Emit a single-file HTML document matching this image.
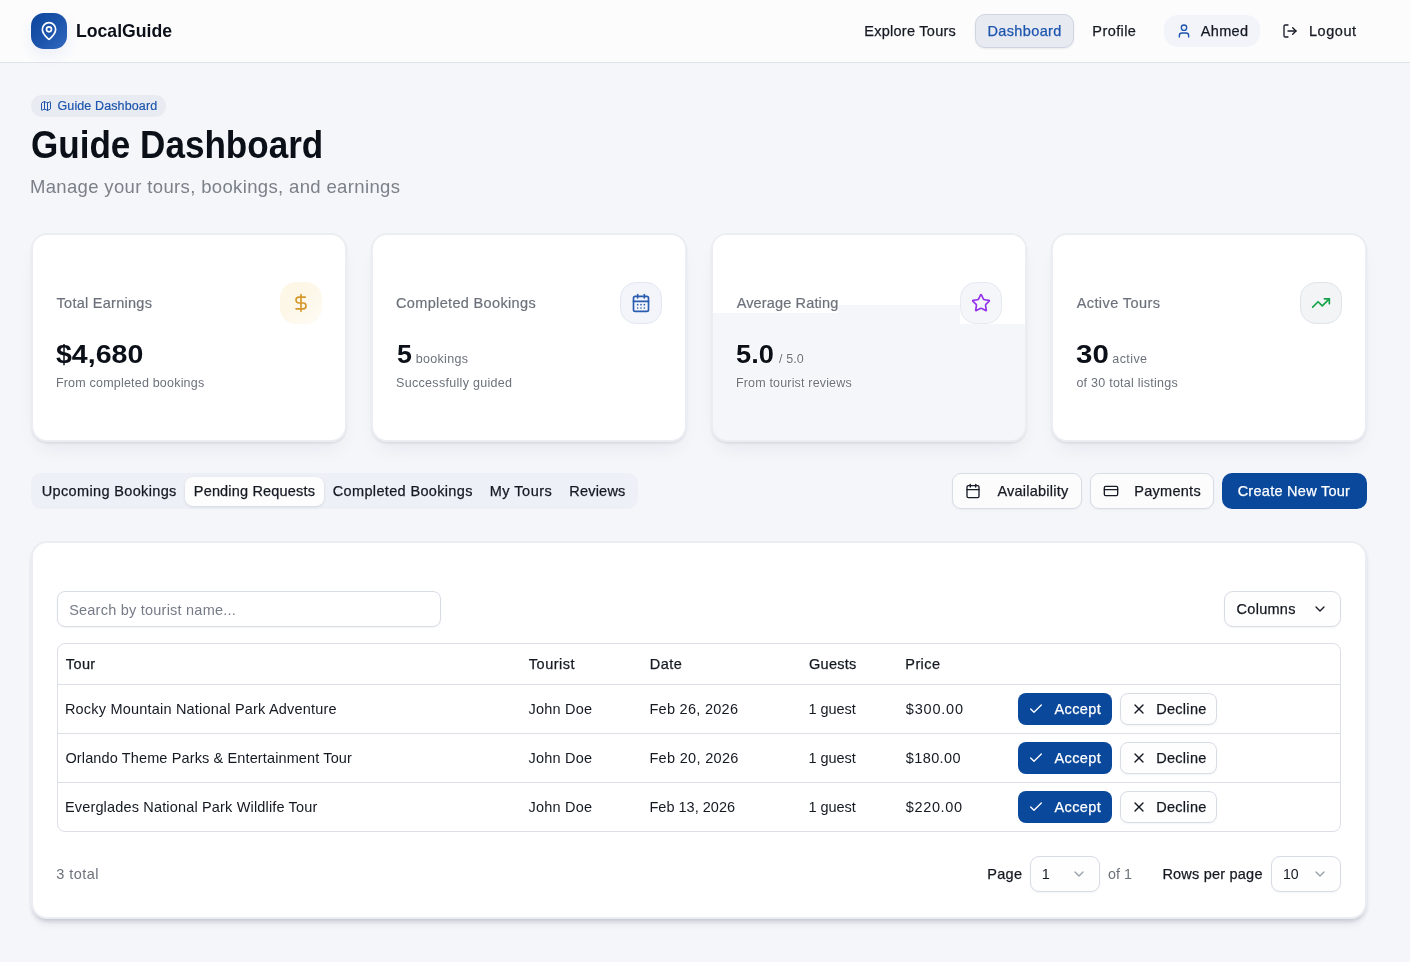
<!DOCTYPE html>
<html lang="en"><head><meta charset="utf-8"><title>Guide Dashboard - LocalGuide</title>
<style>
html,body{margin:0;padding:0}
body{width:1410px;height:962px;position:relative;overflow:hidden;background:#f5f6fa;font-family:'Liberation Sans',sans-serif}
.t{position:absolute;white-space:pre}
#tx{position:absolute;left:0;top:0;width:1410px;height:962px;will-change:transform;z-index:5}
.b{position:absolute;box-sizing:border-box}
svg{position:absolute;overflow:visible;fill:none;stroke-linecap:round;stroke-linejoin:round;z-index:4}
.card{border:2px solid #ebedf2;border-radius:16px;background:#fff;box-shadow:0 2px 3px -1px rgba(20,30,60,.13),0 12px 22px -8px rgba(20,30,60,.07)}
.ob{border:1px solid #d8dce5;border-radius:9px;background:#fcfcfd;box-shadow:0 1px 2px rgba(20,30,60,.05)}
.pb{border-radius:9px;background:#0a489b}
.ib{border-radius:16px}
.hl{height:1px;background:#dcdfe8;left:58px;width:1282px}
.ob.w{background:#fefefe}

</style></head>
<body>
<div class="b" style="left:0;top:0;width:1410px;height:63px;background:#fcfcfd;border-bottom:1px solid #dfe2e8"></div>
<div class="b" style="left:31px;top:13px;width:36px;height:36px;border-radius:13px;background:linear-gradient(135deg,#0a459b 0%,#1d55ad 55%,#3369bf 100%);box-shadow:0 6px 14px rgba(30,80,170,.08)"></div>
<svg style="left:39px;top:21px" width="20" height="20" viewBox="0 0 24 24" stroke="#fff" stroke-width="2"><path d="M20 10c0 4.993-5.539 10.193-7.399 11.799a1 1 0 0 1-1.202 0C9.539 20.193 4 14.993 4 10a8 8 0 0 1 16 0"/><circle cx="12" cy="10" r="3"/></svg>
<div class="b" style="left:975px;top:14px;width:99px;height:34px;border-radius:10px;background:#e7eaf1;border:1px solid #cfd5e0;box-shadow:0 1px 2px rgba(20,30,60,.08)"></div>
<div class="b" style="left:1164px;top:15px;width:96px;height:32px;border-radius:14px;background:#f2f4fa"></div>
<svg style="left:1176px;top:23px" width="16" height="16" viewBox="0 0 24 24" stroke="#1d55ad" stroke-width="2"><path d="M19 21v-2a4 4 0 0 0-4-4H9a4 4 0 0 0-4 4v2"/><circle cx="12" cy="7" r="4"/></svg>
<svg style="left:1282px;top:23px" width="16" height="16" viewBox="0 0 24 24" stroke="#171b26" stroke-width="2"><path d="M9 21H5a2 2 0 0 1-2-2V5a2 2 0 0 1 2-2h4"/><polyline points="16 17 21 12 16 7"/><line x1="21" y1="12" x2="9" y2="12"/></svg>
<div class="b" style="left:31px;top:95px;width:135px;height:22px;border-radius:11px;background:#e8ebf1"></div>
<svg style="left:40px;top:100px" width="12" height="12" viewBox="0 0 24 24" stroke="#1d55ad" stroke-width="2"><path d="M14.106 5.553a2 2 0 0 0 1.788 0l3.659-1.83A1 1 0 0 1 21 4.619v12.764a1 1 0 0 1-.553.894l-4.553 2.277a2 2 0 0 1-1.788 0l-4.212-2.106a2 2 0 0 0-1.788 0l-3.659 1.83A1 1 0 0 1 3 19.381V6.618a1 1 0 0 1 .553-.894l4.553-2.277a2 2 0 0 1 1.788 0z"/><path d="M15 5.764v15"/><path d="M9 3.236v15"/></svg>
<!-- cards -->
<div class="b card" style="left:31px;top:233px;width:316px;height:208.5px"></div>
<div class="b card" style="left:371px;top:233px;width:316px;height:208.5px"></div>
<div class="b card" style="left:711px;top:233px;width:316px;height:208.5px;background:#f5f6fa;overflow:hidden">
  <div class="b" style="left:0;top:0;width:312px;height:70px;background:#fff"></div>
  <div class="b" style="left:0;top:0;width:125px;height:77.7px;background:#fff"></div>
  <div class="b" style="left:247px;top:0;width:65px;height:89px;background:#fff"></div>
</div>
<div class="b card" style="left:1051px;top:233px;width:316px;height:208.5px"></div>
<div class="b ib" style="left:280px;top:282px;width:42px;height:42px;background:linear-gradient(135deg,#fdf7e8 45%,#fffcf6 100%)"></div>
<div class="b ib" style="left:620px;top:282px;width:42px;height:42px;background:#f3f5fb;border:1px solid #e0e6f2"></div>
<div class="b ib" style="left:960px;top:282px;width:42px;height:42px;background:#f5f6fa;border:1px solid #e6e9f1"></div>
<div class="b ib" style="left:1300px;top:282px;width:42px;height:42px;background:#f2f4f6;border:1px solid #e0e4e9"></div>
<svg style="left:291px;top:293px" width="20" height="20" viewBox="0 0 24 24" stroke="#d4982a" stroke-width="2"><line x1="12" y1="2" x2="12" y2="22"/><path d="M17 5H9.5a3.5 3.5 0 0 0 0 7h5a3.5 3.5 0 0 1 0 7H6"/></svg>
<svg style="left:631px;top:293px" width="20" height="20" viewBox="0 0 24 24" stroke="#2a5db0" stroke-width="2"><path d="M8 2v4"/><path d="M16 2v4"/><rect x="3" y="4" width="18" height="18" rx="2"/><path d="M3 10h18"/><path d="M8 14h.01"/><path d="M12 14h.01"/><path d="M16 14h.01"/><path d="M8 18h.01"/><path d="M12 18h.01"/><path d="M16 18h.01"/></svg>
<svg style="left:971px;top:293px" width="20" height="20" viewBox="0 0 24 24" stroke="#9333ea" stroke-width="2"><path d="M11.525 2.295a.53.53 0 0 1 .95 0l2.31 4.679a2.123 2.123 0 0 0 1.595 1.16l5.166.756a.53.53 0 0 1 .294.904l-3.736 3.638a2.123 2.123 0 0 0-.611 1.878l.882 5.14a.53.53 0 0 1-.771.56l-4.618-2.428a2.122 2.122 0 0 0-1.973 0L6.396 21.01a.53.53 0 0 1-.77-.56l.881-5.139a2.122 2.122 0 0 0-.611-1.879L2.16 9.795a.53.53 0 0 1 .294-.906l5.165-.755a2.122 2.122 0 0 0 1.597-1.16z"/></svg>
<svg style="left:1311px;top:293px" width="20" height="20" viewBox="0 0 24 24" stroke="#16a34a" stroke-width="2"><polyline points="22 7 13.5 15.5 8.5 10.5 2 17"/><polyline points="16 7 22 7 22 13"/></svg>
<!-- tabs & buttons -->
<div class="b" style="left:31px;top:473px;width:607px;height:36px;border-radius:10px;background:#eef0f7"></div>
<div class="b" style="left:185px;top:477px;width:139px;height:29px;border-radius:8px;background:#fdfdfe;box-shadow:0 1px 3px rgba(20,30,60,.12)"></div>
<div class="b ob" style="left:952px;top:473px;width:130px;height:36px"></div>
<div class="b ob" style="left:1090px;top:473px;width:123.5px;height:36px"></div>
<div class="b pb" style="left:1222px;top:473px;width:145px;height:36px;border-radius:10px"></div>
<svg style="left:965px;top:483px" width="16" height="16" viewBox="0 0 24 24" stroke="#171b26" stroke-width="2"><path d="M8 2v4"/><path d="M16 2v4"/><rect x="3" y="4" width="18" height="18" rx="2"/><path d="M3 10h18"/></svg>
<svg style="left:1103px;top:483px" width="16" height="16" viewBox="0 0 24 24" stroke="#171b26" stroke-width="2"><rect x="2" y="5" width="20" height="14" rx="2"/><line x1="2" y1="10" x2="22" y2="10"/></svg>
<!-- table card -->
<div class="b card" style="left:31px;top:541px;width:1336px;height:377.5px;box-shadow:0 3px 4px -1px rgba(20,30,60,.16),0 9px 10px -5px rgba(20,30,60,.09)"></div>
<div class="b" style="left:57px;top:591px;width:384px;height:36px;border-radius:8px;border:1px solid #d8dce4;background:#fff;box-shadow:0 1px 2px rgba(20,30,60,.05)"></div>
<div class="b ob w" style="left:1224px;top:591px;width:117px;height:36px"></div>
<svg style="left:1312.4px;top:601px" width="16" height="16" viewBox="0 0 24 24" stroke="#171b26" stroke-width="2"><path d="m6 9 6 6 6-6"/></svg>
<div class="b" style="left:57px;top:643px;width:1284px;height:189px;border-radius:8px;border:1px solid #dcdfe7"></div>
<div class="b hl" style="top:684px"></div>
<div class="b hl" style="top:733px"></div>
<div class="b hl" style="top:782px"></div>
<div class="b pb" style="left:1018px;top:693px;width:94px;height:32px;border-radius:8px"></div>
<div class="b ob w" style="left:1120.4px;top:693px;width:96.3px;height:32px;border-radius:8px"></div>
<svg style="left:1028px;top:701px" width="16" height="16" viewBox="0 0 24 24" stroke="#fff" stroke-width="2"><path d="M20 6 9 17l-5-5"/></svg>
<svg style="left:1131px;top:701px" width="16" height="16" viewBox="0 0 24 24" stroke="#171b26" stroke-width="2"><path d="M18 6 6 18"/><path d="m6 6 12 12"/></svg>
<div class="b pb" style="left:1018px;top:742px;width:94px;height:32px;border-radius:8px"></div>
<div class="b ob w" style="left:1120.4px;top:742px;width:96.3px;height:32px;border-radius:8px"></div>
<svg style="left:1028px;top:750px" width="16" height="16" viewBox="0 0 24 24" stroke="#fff" stroke-width="2"><path d="M20 6 9 17l-5-5"/></svg>
<svg style="left:1131px;top:750px" width="16" height="16" viewBox="0 0 24 24" stroke="#171b26" stroke-width="2"><path d="M18 6 6 18"/><path d="m6 6 12 12"/></svg>
<div class="b pb" style="left:1018px;top:791px;width:94px;height:32px;border-radius:8px"></div>
<div class="b ob w" style="left:1120.4px;top:791px;width:96.3px;height:32px;border-radius:8px"></div>
<svg style="left:1028px;top:799px" width="16" height="16" viewBox="0 0 24 24" stroke="#fff" stroke-width="2"><path d="M20 6 9 17l-5-5"/></svg>
<svg style="left:1131px;top:799px" width="16" height="16" viewBox="0 0 24 24" stroke="#171b26" stroke-width="2"><path d="M18 6 6 18"/><path d="m6 6 12 12"/></svg>

<div class="b ob w" style="left:1030px;top:856px;width:70px;height:36px"></div>
<div class="b ob w" style="left:1271px;top:856px;width:70px;height:36px"></div>
<svg style="left:1070.5px;top:866px" width="16" height="16" viewBox="0 0 24 24" stroke="#9aa0ab" stroke-width="2"><path d="m6 9 6 6 6-6"/></svg>
<svg style="left:1311.7px;top:866px" width="16" height="16" viewBox="0 0 24 24" stroke="#9aa0ab" stroke-width="2"><path d="m6 9 6 6 6-6"/></svg>

<div id="tx">
<span class="t" style="left:75.61px;top:19px;font-size:19px;line-height:23px;color:#0b0f17;letter-spacing:0.000px;font-weight:700;transform:scaleX(0.9286);transform-origin:0 0;">LocalGuide</span>
<span class="t" style="left:864.19px;top:23px;font-size:14.5px;line-height:17px;color:#151922;letter-spacing:0.274px;-webkit-text-stroke:0.25px #151922;">Explore Tours</span>
<span class="t" style="left:987.45px;top:23px;font-size:14.5px;line-height:17px;color:#1d55ad;letter-spacing:0.374px;-webkit-text-stroke:0.25px #1d55ad;">Dashboard</span>
<span class="t" style="left:1092.31px;top:23px;font-size:14.5px;line-height:17px;color:#151922;letter-spacing:0.423px;-webkit-text-stroke:0.25px #151922;">Profile</span>
<span class="t" style="left:1200.73px;top:23px;font-size:14.5px;line-height:17px;color:#151922;letter-spacing:0.342px;-webkit-text-stroke:0.25px #151922;">Ahmed</span>
<span class="t" style="left:1308.95px;top:23px;font-size:14.5px;line-height:17px;color:#151922;letter-spacing:0.550px;-webkit-text-stroke:0.25px #151922;">Logout</span>
<span class="t" style="left:57.49px;top:99px;font-size:12.5px;line-height:15px;color:#1d55ad;letter-spacing:0.119px;-webkit-text-stroke:0.2px #1d55ad;">Guide Dashboard</span>
<span class="t" style="left:30.99px;top:122px;font-size:38px;line-height:46px;color:#0b0f17;letter-spacing:0.000px;font-weight:700;transform:scaleX(0.9229);transform-origin:0 0;">Guide Dashboard</span>
<span class="t" style="left:29.90px;top:176px;font-size:18.5px;line-height:22px;color:#7b8089;letter-spacing:0.355px;">Manage your tours, bookings, and earnings</span>
<span class="t" style="left:56.56px;top:295px;font-size:14.5px;line-height:17px;color:#6c717b;letter-spacing:0.266px;-webkit-text-stroke:0.2px #6c717b;">Total Earnings</span>
<span class="t" style="left:396.03px;top:295px;font-size:14.5px;line-height:17px;color:#6c717b;letter-spacing:0.342px;-webkit-text-stroke:0.2px #6c717b;">Completed Bookings</span>
<span class="t" style="left:736.67px;top:295px;font-size:14.5px;line-height:17px;color:#6c717b;letter-spacing:0.144px;-webkit-text-stroke:0.2px #6c717b;">Average Rating</span>
<span class="t" style="left:1076.67px;top:295px;font-size:14.5px;line-height:17px;color:#6c717b;letter-spacing:0.412px;-webkit-text-stroke:0.2px #6c717b;">Active Tours</span>
<span class="t" style="left:56.27px;top:339px;font-size:25px;line-height:30px;color:#0b0f17;letter-spacing:0.000px;font-weight:700;transform:scaleX(1.1414);transform-origin:0 0;">$4,680</span>
<span class="t" style="left:396.74px;top:339px;font-size:25px;line-height:30px;color:#0b0f17;letter-spacing:0.000px;font-weight:700;transform:scaleX(1.0722);transform-origin:0 0;">5</span>
<span class="t" style="left:736.29px;top:339px;font-size:25px;line-height:30px;color:#0b0f17;letter-spacing:0.000px;font-weight:700;transform:scaleX(1.0896);transform-origin:0 0;text-shadow:0 0 1px #fff,0 0 2px #fff,0 0 2px #fff;">5.0</span>
<span class="t" style="left:1076.23px;top:339px;font-size:25px;line-height:30px;color:#0b0f17;letter-spacing:0.000px;font-weight:700;transform:scaleX(1.1782);transform-origin:0 0;">30</span>
<span class="t" style="left:415.64px;top:352px;font-size:12.5px;line-height:15px;color:#6c717b;letter-spacing:0.325px;">bookings</span>
<span class="t" style="left:779.06px;top:352px;font-size:12.5px;line-height:15px;color:#6c717b;letter-spacing:0.085px;text-shadow:0 0 1px #fff,0 0 2px #fff,0 0 2px #fff;">/ 5.0</span>
<span class="t" style="left:1112.37px;top:352px;font-size:12.5px;line-height:15px;color:#6c717b;letter-spacing:0.393px;">active</span>
<span class="t" style="left:55.91px;top:376px;font-size:12.5px;line-height:15px;color:#6c717b;letter-spacing:0.202px;">From completed bookings</span>
<span class="t" style="left:396.08px;top:376px;font-size:12.5px;line-height:15px;color:#6c717b;letter-spacing:0.304px;">Successfully guided</span>
<span class="t" style="left:735.94px;top:376px;font-size:12.5px;line-height:15px;color:#6c717b;letter-spacing:0.170px;text-shadow:0 0 1px #fff,0 0 2px #fff,0 0 2px #fff;">From tourist reviews</span>
<span class="t" style="left:1076.43px;top:376px;font-size:12.5px;line-height:15px;color:#6c717b;letter-spacing:0.246px;">of 30 total listings</span>
<span class="t" style="left:41.77px;top:483px;font-size:14.5px;line-height:17px;color:#151922;letter-spacing:0.350px;-webkit-text-stroke:0.25px #151922;">Upcoming Bookings</span>
<span class="t" style="left:193.80px;top:483px;font-size:14.5px;line-height:17px;color:#151922;letter-spacing:0.175px;-webkit-text-stroke:0.25px #151922;">Pending Requests</span>
<span class="t" style="left:332.80px;top:483px;font-size:14.5px;line-height:17px;color:#151922;letter-spacing:0.343px;-webkit-text-stroke:0.25px #151922;">Completed Bookings</span>
<span class="t" style="left:489.70px;top:483px;font-size:14.5px;line-height:17px;color:#151922;letter-spacing:0.515px;-webkit-text-stroke:0.25px #151922;">My Tours</span>
<span class="t" style="left:569.19px;top:483px;font-size:14.5px;line-height:17px;color:#151922;letter-spacing:0.226px;-webkit-text-stroke:0.25px #151922;">Reviews</span>
<span class="t" style="left:997.42px;top:483px;font-size:14.5px;line-height:17px;color:#151922;letter-spacing:0.233px;-webkit-text-stroke:0.25px #151922;">Availability</span>
<span class="t" style="left:1134.19px;top:483px;font-size:14.5px;line-height:17px;color:#151922;letter-spacing:0.281px;-webkit-text-stroke:0.25px #151922;">Payments</span>
<span class="t" style="left:1237.64px;top:483px;font-size:14.5px;line-height:17px;color:#ffffff;letter-spacing:0.271px;-webkit-text-stroke:0.25px #ffffff;">Create New Tour</span>
<span class="t" style="left:69.14px;top:602px;font-size:14.5px;line-height:17px;color:#757b87;letter-spacing:0.229px;">Search by tourist name...</span>
<span class="t" style="left:1236.58px;top:601px;font-size:14.5px;line-height:17px;color:#151922;letter-spacing:0.264px;-webkit-text-stroke:0.25px #151922;">Columns</span>
<span class="t" style="left:65.86px;top:656px;font-size:14.5px;line-height:17px;color:#151922;letter-spacing:0.370px;-webkit-text-stroke:0.25px #151922;">Tour</span>
<span class="t" style="left:528.86px;top:656px;font-size:14.5px;line-height:17px;color:#151922;letter-spacing:0.477px;-webkit-text-stroke:0.25px #151922;">Tourist</span>
<span class="t" style="left:649.70px;top:656px;font-size:14.5px;line-height:17px;color:#151922;letter-spacing:0.486px;-webkit-text-stroke:0.25px #151922;">Date</span>
<span class="t" style="left:809.06px;top:656px;font-size:14.5px;line-height:17px;color:#151922;letter-spacing:0.245px;-webkit-text-stroke:0.25px #151922;">Guests</span>
<span class="t" style="left:905.31px;top:656px;font-size:14.5px;line-height:17px;color:#151922;letter-spacing:0.408px;-webkit-text-stroke:0.25px #151922;">Price</span>
<span class="t" style="left:64.92px;top:701px;font-size:14.5px;line-height:17px;color:#151922;letter-spacing:0.200px;">Rocky Mountain National Park Adventure</span>
<span class="t" style="left:528.53px;top:701px;font-size:14.5px;line-height:17px;color:#151922;letter-spacing:0.216px;">John Doe</span>
<span class="t" style="left:649.44px;top:701px;font-size:14.5px;line-height:17px;color:#151922;letter-spacing:0.285px;">Feb 26, 2026</span>
<span class="t" style="left:808.45px;top:701px;font-size:14.5px;line-height:17px;color:#151922;letter-spacing:-0.021px;">1 guest</span>
<span class="t" style="left:905.79px;top:701px;font-size:14.5px;line-height:17px;color:#151922;letter-spacing:0.808px;">$300.00</span>
<span class="t" style="left:1054.40px;top:701px;font-size:14.5px;line-height:17px;color:#ffffff;letter-spacing:0.433px;-webkit-text-stroke:0.25px #ffffff;">Accept</span>
<span class="t" style="left:1156.18px;top:701px;font-size:14.5px;line-height:17px;color:#151922;letter-spacing:0.297px;-webkit-text-stroke:0.25px #151922;">Decline</span>
<span class="t" style="left:65.43px;top:750px;font-size:14.5px;line-height:17px;color:#151922;letter-spacing:0.126px;">Orlando Theme Parks &amp; Entertainment Tour</span>
<span class="t" style="left:528.53px;top:750px;font-size:14.5px;line-height:17px;color:#151922;letter-spacing:0.216px;">John Doe</span>
<span class="t" style="left:649.44px;top:750px;font-size:14.5px;line-height:17px;color:#151922;letter-spacing:0.313px;">Feb 20, 2026</span>
<span class="t" style="left:808.45px;top:750px;font-size:14.5px;line-height:17px;color:#151922;letter-spacing:-0.021px;">1 guest</span>
<span class="t" style="left:905.80px;top:750px;font-size:14.5px;line-height:17px;color:#151922;letter-spacing:0.391px;">$180.00</span>
<span class="t" style="left:1054.40px;top:750px;font-size:14.5px;line-height:17px;color:#ffffff;letter-spacing:0.433px;-webkit-text-stroke:0.25px #ffffff;">Accept</span>
<span class="t" style="left:1156.19px;top:750px;font-size:14.5px;line-height:17px;color:#151922;letter-spacing:0.292px;-webkit-text-stroke:0.25px #151922;">Decline</span>
<span class="t" style="left:64.92px;top:799px;font-size:14.5px;line-height:17px;color:#151922;letter-spacing:0.164px;">Everglades National Park Wildlife Tour</span>
<span class="t" style="left:528.53px;top:799px;font-size:14.5px;line-height:17px;color:#151922;letter-spacing:0.216px;">John Doe</span>
<span class="t" style="left:649.44px;top:799px;font-size:14.5px;line-height:17px;color:#151922;letter-spacing:0.016px;">Feb 13, 2026</span>
<span class="t" style="left:808.45px;top:799px;font-size:14.5px;line-height:17px;color:#151922;letter-spacing:-0.021px;">1 guest</span>
<span class="t" style="left:905.80px;top:799px;font-size:14.5px;line-height:17px;color:#151922;letter-spacing:0.636px;">$220.00</span>
<span class="t" style="left:1054.40px;top:799px;font-size:14.5px;line-height:17px;color:#ffffff;letter-spacing:0.433px;-webkit-text-stroke:0.25px #ffffff;">Accept</span>
<span class="t" style="left:1156.19px;top:799px;font-size:14.5px;line-height:17px;color:#151922;letter-spacing:0.292px;-webkit-text-stroke:0.25px #151922;">Decline</span>
<span class="t" style="left:56.36px;top:866px;font-size:14.5px;line-height:17px;color:#6c717b;letter-spacing:0.432px;">3 total</span>
<span class="t" style="left:987.31px;top:866px;font-size:14.5px;line-height:17px;color:#151922;letter-spacing:0.268px;-webkit-text-stroke:0.25px #151922;">Page</span>
<span class="t" style="left:1041.80px;top:866px;font-size:14.5px;line-height:17px;color:#151922;letter-spacing:0.000px;">1</span>
<span class="t" style="left:1108.12px;top:866px;font-size:14.5px;line-height:17px;color:#6c717b;letter-spacing:0.000px;transform:scaleX(0.9881);transform-origin:0 0;">of 1</span>
<span class="t" style="left:1162.40px;top:866px;font-size:14.5px;line-height:17px;color:#151922;letter-spacing:0.211px;-webkit-text-stroke:0.25px #151922;">Rows per page</span>
<span class="t" style="left:1282.50px;top:866px;font-size:14.5px;line-height:17px;color:#151922;letter-spacing:0.000px;transform:scaleX(0.9752);transform-origin:0 0;">10</span>
</div>
</body></html>
